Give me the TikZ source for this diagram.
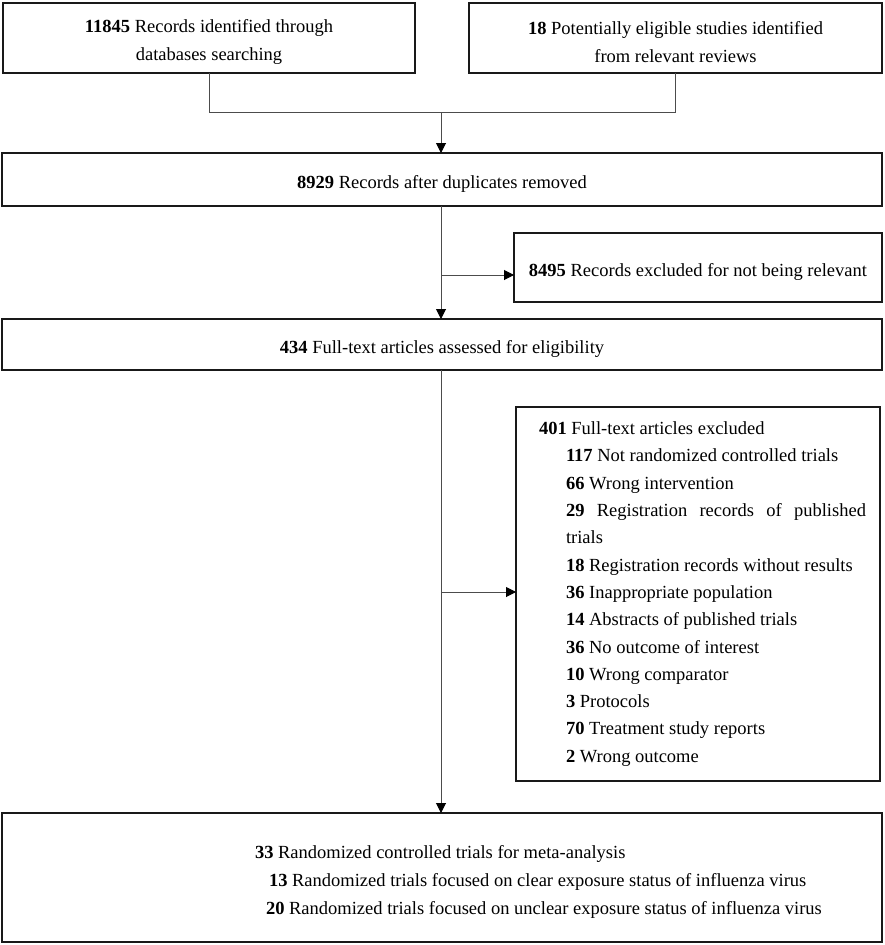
\documentclass[tikz,border=0pt]{standalone}
\usepackage{fontspec}
\setmainfont{Liberation Serif}
\usetikzlibrary{arrows.meta}
\newcommand{\tstrut}{\rule{0pt}{21pt}}
\begin{document}
\begin{tikzpicture}[x=1pt,y=-1pt,
  box/.style={draw=black!90, line width=1.5pt, rectangle, inner sep=0pt, outer sep=0pt,
    anchor=north west, font=\fontsize{18.5}{27.3}\selectfont, align=center},
  conn/.style={draw=black!70, line width=1pt},
  arr/.style={conn, -{Triangle[length=10pt,width=10pt,fill=black,color=black]}}]
\useasboundingbox (0,0) rectangle (884,945);
\fill[white] (0,0) rectangle (884,945);

\node[box, minimum width=412, minimum height=70] (A) at (3,3)
  {\tstrut\textbf{11845} Records identified through\\databases searching};
\node[box, minimum width=413, minimum height=70] (B) at (469,3)
  {\tstrut\textbf{18} Potentially eligible studies identified\\from relevant reviews};
\node[box, minimum width=880, minimum height=53] (C) at (2,153)
  {\tstrut\textbf{8929} Records after duplicates removed};
\node[box, minimum width=368, minimum height=69] (E) at (514,233)
  {\tstrut\textbf{8495} Records excluded for not being relevant};
\node[box, minimum width=880, minimum height=51] (D) at (2,319)
  {\tstrut\textbf{434} Full-text articles assessed for eligibility};
\node[box, minimum width=364, minimum height=374, align=left] (F) at (516,407)
  {\hspace*{9pt}\begin{minipage}{327pt}\fontsize{18.5}{27.3}\selectfont
   \hyphenpenalty=10000 \parindent=0pt
   \textbf{401} Full-text articles excluded\par
   \leftskip=27pt
   \textbf{117} Not randomized controlled trials\par
   \textbf{66} Wrong intervention\par
   \textbf{29} Registration records of published trials\par
   \textbf{18} Registration records without results\par
   \textbf{36} Inappropriate population\par
   \textbf{14} Abstracts of published trials\par
   \textbf{36} No outcome of interest\par
   \textbf{10} Wrong comparator\par
   \textbf{3} Protocols\par
   \textbf{70} Treatment study reports\par
   \textbf{2} Wrong outcome\par
   \end{minipage}};
\node[box, minimum width=880, minimum height=129, align=left,
      font=\fontsize{18.5}{28}\selectfont] (G) at (2,813)
  {\makebox[374pt][l]{\begin{tabular}{@{}l@{}}
   \rule{0pt}{27pt}\textbf{33} Randomized controlled trials for meta-analysis\\
   \hspace*{14pt}\textbf{13} Randomized trials focused on clear exposure status of influenza virus\\
   \hspace*{11pt}\textbf{20} Randomized trials focused on unclear exposure status of influenza virus
   \end{tabular}}};

\coordinate (j) at (441,112);
\draw[conn] (A.south) |- (j);
\draw[conn] (B.south) |- (j);
\draw[arr] (j) -- (j |- C.north);

\coordinate (b1) at (441,275);
\draw[arr] (C.south -| j) -- (D.north -| j);
\draw[arr] (b1) -- (b1 -| E.west);

\coordinate (b2) at (441,592);
\draw[arr] (D.south -| j) -- (G.north -| j);
\draw[arr] (b2) -- (b2 -| F.west);
\end{tikzpicture}
\end{document}
